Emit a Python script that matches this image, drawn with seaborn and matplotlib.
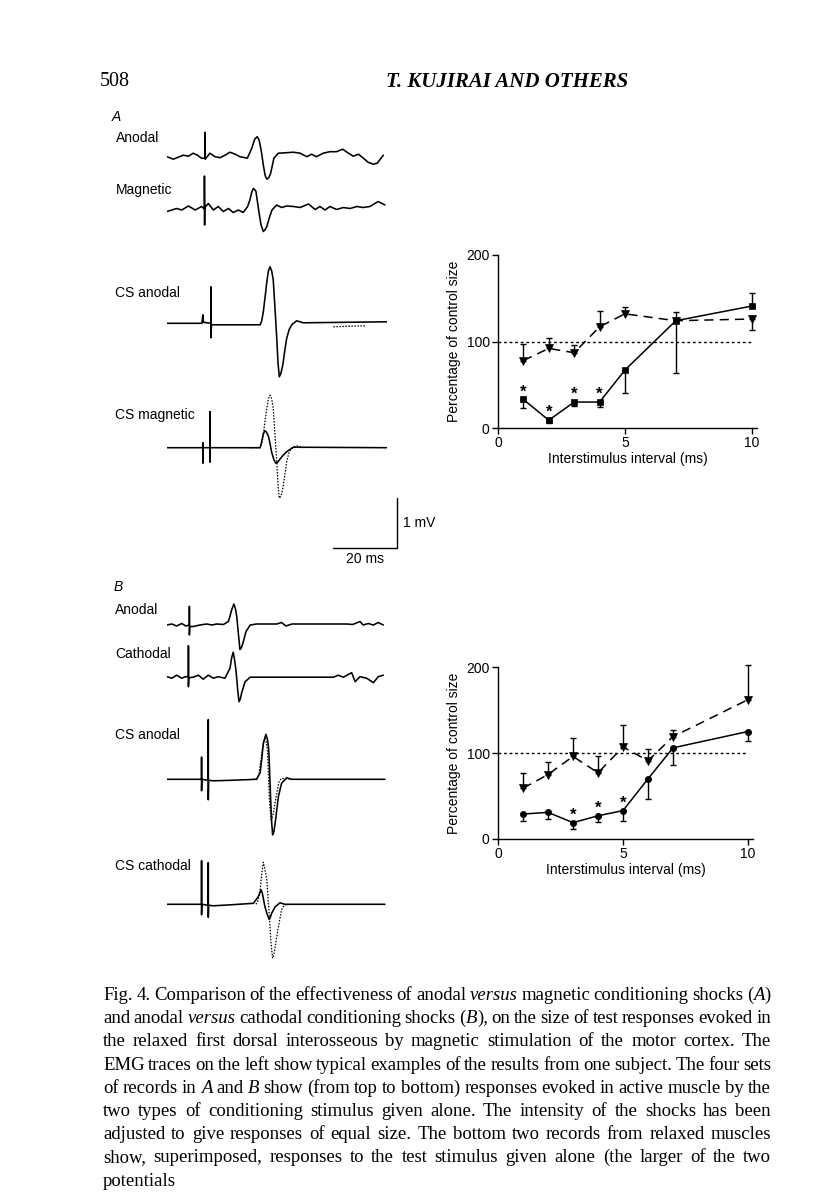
import re
import matplotlib
matplotlib.use("Agg")
import matplotlib.pyplot as plt
import seaborn as sns

sns.set_theme(style="ticks")
plt.rcParams['font.family'] = ['Liberation Sans', 'DejaVu Sans']
plt.rcParams.update({'text.color': 'black', 'axes.labelcolor': 'black',
                     'axes.edgecolor': 'black', 'xtick.color': 'black',
                     'ytick.color': 'black', 'axes.linewidth': 1.0})

# ---------------- data: graph A (relaxed, anodal vs magnetic) ----------------
isi_A = [1, 2, 3, 4, 5, 7, 10]
anodal_A_pct = [33, 9, 30, 30, 67, 124, 141]
anodal_A_err_down = [10, 3, 5, 6, 27, 60, 0]
anodal_A_err_up = [0, 0, 0, 0, 0, 0, 15]
magnetic_A_pct = [78, 92, 87, 117, 132, 124, 126]
magnetic_A_err_down = [0, 0, 0, 0, 0, 0, 13]
magnetic_A_err_up = [19, 12, 9, 18, 8, 10, 0]
signif_A = [1, 2, 3, 4]

# ---------------- data: graph B (anodal vs cathodal) ----------------
isi_B = [1, 2, 3, 4, 5, 6, 7, 10]
anodal_B_pct = [29, 31, 19, 27, 33, 70, 106, 125]
anodal_B_err_down = [8, 8, 7, 7, 12, 24, 20, 11]
anodal_B_err_up = [0, 0, 0, 0, 0, 0, 0, 0]
cathodal_B_pct = [59, 75, 96, 77, 107, 91, 119, 162]
cathodal_B_err_down = [0, 0, 0, 0, 0, 0, 0, 0]
cathodal_B_err_up = [18, 15, 22, 20, 25, 14, 8, 40]
signif_B = [3, 4, 5]

control_level = 100
x_ticks = [0, 5, 10]
y_ticks = [0, 100, 200]

# ---------------- EMG traces: (time ms, amplitude mV) ----------------
trace_anodal_A = [(0.0, 0.00), (2.0, -0.05), (3.5, -0.01), (5.1, 0.03), (6.7, 0.01), (8.2, 0.07),
                  (9.5, 0.03), (10.8, -0.03), (11.9, -0.03), (11.9, 0.49), (11.95, -0.05), (12.3, -0.02),
                  (13.4, 0.07), (15.0, 0.00), (16.6, -0.02), (18.1, 0.03), (19.7, 0.09), (21.3, 0.05),
                  (22.8, 0.00), (25.1, -0.03), (26.5, 0.17), (27.4, 0.35), (28.2, 0.40), (28.8, 0.33),
                  (29.5, 0.10), (30.1, -0.17), (30.7, -0.38), (31.2, -0.45), (31.8, -0.42), (32.4, -0.33),
                  (33.4, -0.03), (34.8, 0.07), (37.4, 0.08), (39.5, 0.09), (41.6, 0.07), (43.7, 0.00),
                  (45.2, 0.05), (46.7, 0.00), (48.8, 0.07), (50.9, 0.10), (53.0, 0.10), (54.9, 0.15),
                  (56.7, 0.07), (58.2, 0.01), (59.8, 0.05), (61.4, -0.03), (62.8, -0.11), (64.5, -0.15),
                  (65.7, -0.13), (67.6, 0.03)]
trace_magnetic_A = [(0.0, -0.03), (3.0, 0.03), (4.6, 0.00), (6.7, 0.08), (8.8, 0.00), (10.8, 0.07),
                    (11.7, 0.02), (11.7, 0.68), (11.75, -0.30), (11.8, 0.05), (12.9, 0.13), (14.5, 0.00),
                    (16.0, 0.07), (17.6, -0.03), (19.2, 0.03), (20.7, -0.05), (22.3, 0.00), (23.8, -0.05),
                    (25.2, 0.07), (25.9, 0.20), (26.5, 0.36), (27.0, 0.43), (27.5, 0.40), (27.8, 0.37),
                    (28.3, 0.15), (28.8, -0.07), (29.4, -0.30), (30.1, -0.43), (30.6, -0.40), (31.2, -0.33),
                    (32.0, -0.15), (32.8, 0.00), (34.3, 0.10), (35.8, 0.05), (37.4, 0.08), (39.5, 0.07),
                    (41.6, 0.05), (44.2, 0.12), (46.3, 0.01), (47.8, 0.07), (49.4, 0.00), (50.9, 0.07),
                    (53.0, 0.01), (55.1, 0.05), (57.2, 0.03), (59.3, 0.07), (61.3, 0.05), (63.4, 0.07),
                    (66.0, 0.17), (68.1, 0.10)]
trace_cs_anodal_A = [(0.0, 0.00), (10.9, 0.00), (11.2, 0.17), (11.4, 0.02), (13.7, 0.00), (13.7, 0.73),
                     (13.75, -0.29), (13.9, -0.03), (29.1, -0.03), (29.6, 0.05), (30.1, 0.23), (30.7, 0.55),
                     (31.2, 0.83), (31.7, 1.05), (32.2, 1.13), (32.7, 1.05), (33.2, 0.87), (33.7, 0.35),
                     (34.3, -0.30), (34.7, -0.80), (35.1, -1.07), (35.6, -1.00), (36.2, -0.83), (36.8, -0.55),
                     (37.4, -0.30), (38.2, -0.12), (39.0, -0.03), (40.5, 0.05), (42.6, 0.01), (68.7, 0.03)]
trace_cs_anodal_A_test = [(52.0, -0.07), (56.0, -0.06), (61.9, -0.05)]
trace_cs_magnetic_A = [(0.0, 0.00), (11.2, 0.00), (11.2, 0.10), (11.2, -0.31), (11.3, 0.00), (13.4, 0.00),
                       (13.4, 0.72), (13.4, -0.29), (13.5, 0.00), (29.1, 0.00), (29.6, 0.12), (30.1, 0.28),
                       (30.6, 0.34), (31.1, 0.31), (31.7, 0.23), (32.2, 0.08), (32.7, -0.09), (33.4, -0.24),
                       (34.0, -0.31), (34.6, -0.29), (35.3, -0.23), (36.3, -0.15), (37.4, -0.08), (39.5, 0.01),
                       (68.7, 0.00)]
trace_cs_magnetic_A_test = [(26.0, 0.00), (29.1, 0.00), (29.6, 0.08), (30.1, 0.25), (30.6, 0.52), (31.2, 0.79),
                            (31.7, 0.98), (32.2, 1.05), (32.7, 0.98), (33.2, 0.79), (33.7, 0.30), (34.3, -0.28),
                            (34.7, -0.75), (35.1, -1.01), (35.6, -0.97), (36.2, -0.81), (36.8, -0.55),
                            (37.4, -0.28), (38.2, -0.08), (39.0, -0.01), (40.5, 0.04), (42.6, 0.00)]
trace_anodal_B = [(0.0, 0.00), (1.5, 0.02), (3.0, -0.02), (4.6, 0.03), (5.9, -0.02), (7.0, 0.00),
                  (7.0, 0.37), (7.0, -0.20), (7.1, -0.03), (8.2, -0.03), (10.3, 0.00), (12.4, 0.02),
                  (14.0, 0.00), (15.5, 0.02), (17.6, 0.01), (19.2, 0.07), (19.7, 0.18), (20.2, 0.30),
                  (20.9, 0.42), (21.4, 0.32), (21.8, 0.17), (22.3, -0.17), (22.8, -0.49), (23.2, -0.46),
                  (23.7, -0.37), (24.7, -0.13), (26.0, 0.00), (28.0, 0.02), (34.3, 0.02), (35.8, 0.05),
                  (37.2, -0.02), (39.0, 0.02), (56.2, 0.02), (58.0, 0.01), (60.3, 0.07), (61.3, 0.00),
                  (62.9, 0.03), (64.5, 0.00), (66.0, 0.05), (67.6, 0.00)]
trace_cathodal_B = [(0.0, 0.00), (1.5, -0.03), (3.0, 0.03), (4.6, -0.03), (5.8, 0.00), (6.7, 0.00),
                    (6.7, 0.62), (6.7, -0.20), (6.8, -0.02), (8.2, -0.01), (9.8, 0.03), (11.3, -0.05),
                    (12.9, 0.03), (14.5, -0.03), (16.0, 0.00), (18.1, -0.03), (19.7, 0.17), (20.2, 0.38),
                    (20.7, 0.49), (21.2, 0.30), (21.6, 0.10), (22.1, -0.27), (22.5, -0.50), (22.9, -0.45),
                    (23.3, -0.33), (24.4, -0.10), (26.0, -0.01), (52.0, -0.01), (53.5, 0.03), (55.1, -0.01),
                    (57.7, 0.08), (58.8, -0.10), (60.3, 0.00), (62.4, -0.03), (64.5, -0.12), (66.0, 0.00),
                    (67.6, 0.03)]
trace_cs_anodal_B = [(0.0, 0.00), (10.8, 0.00), (10.8, 0.44), (10.8, -0.23), (10.9, 0.00), (12.9, -0.02),
                     (12.9, 1.19), (12.9, -0.41), (13.0, -0.02), (14.5, -0.03), (20.0, -0.02), (28.0, 0.00),
                     (29.1, 0.13), (29.6, 0.40), (30.1, 0.72), (30.9, 0.90), (31.4, 0.80), (31.8, 0.59),
                     (32.1, 0.10), (32.4, -0.41), (32.7, -0.85), (33.0, -1.11), (33.4, -1.05), (33.8, -0.88),
                     (34.8, -0.35), (35.8, -0.08), (37.4, 0.03), (39.0, 0.00), (68.1, 0.00)]
trace_cs_anodal_B_test = [(27.0, 0.00), (28.3, 0.02), (28.8, 0.13), (29.4, 0.40), (29.9, 0.65), (30.6, 0.82),
                          (31.0, 0.75), (31.4, 0.59), (31.7, 0.10), (32.0, -0.41), (32.5, -0.81), (32.8, -0.78),
                          (33.2, -0.68), (34.3, -0.28), (35.0, -0.05), (35.8, 0.02), (37.4, 0.01), (39.0, 0.00)]
trace_cs_cathodal_B = [(0.0, 0.00), (10.8, 0.00), (10.8, 0.87), (10.8, -0.21), (10.9, 0.00), (12.9, -0.02),
                       (12.9, 0.83), (12.9, -0.26), (13.0, -0.02), (14.5, -0.03), (20.0, -0.01), (27.0, 0.02),
                       (28.5, 0.15), (29.4, 0.29), (29.8, 0.22), (30.1, 0.12), (30.6, -0.05), (31.2, -0.18),
                       (31.9, -0.30), (32.3, -0.26), (32.7, -0.18), (33.8, -0.05), (35.3, 0.03), (36.9, 0.00),
                       (68.1, 0.00)]
trace_cs_cathodal_B_test = [(27.8, 0.00), (28.5, 0.08), (29.1, 0.29), (29.6, 0.60), (30.1, 0.84), (30.6, 0.70),
                            (31.2, 0.49), (31.6, 0.10), (32.0, -0.25), (32.5, -0.78), (33.0, -1.08), (33.4, -1.00),
                            (33.8, -0.85), (34.8, -0.45), (35.8, -0.11), (36.6, -0.02), (37.4, 0.00)]

scale_ms = 20
scale_mv = 1

header_page = "508"
header_title = "T. KUJIRAI AND OTHERS"
caption_lines = [
    "Fig. 4. Comparison of the effectiveness of anodal *versus* magnetic conditioning shocks (*A*)",
    "and anodal *versus* cathodal conditioning shocks (*B*), on the size of test responses evoked in",
    "the relaxed first dorsal interosseous by magnetic stimulation of the motor cortex. The",
    "EMG traces on the left show typical examples of the results from one subject. The four sets",
    "of records in *A* and *B* show (from top to bottom) responses evoked in active muscle by the",
    "two types of conditioning stimulus given alone. The intensity of the shocks has been",
    "adjusted to give responses of equal size. The bottom two records from relaxed muscles",
    "show, superimposed, responses to the test stimulus given alone (the larger of the two",
    "potentials",
]

# ---------------- figure ----------------
W, H = 816, 1200
fig = plt.figure(figsize=(W / 100, H / 100), dpi=100)
fig.patch.set_facecolor('white')


def px_axes(left, top, width, height):
    ax = fig.add_axes([left / W, 1 - (top + height) / H, width / W, height / H])
    ax.set_facecolor('none')
    return ax


def ptext(x, y, s, **kw):
    return fig.text(x / W, 1 - y / H, s, **kw)


LW = 1.15


def draw_trace(baseline_y, solid, dotted=None):
    ax = px_axes(167, baseline_y - 80, 220, 160)
    ax.set_xlim(0, 68.75)
    ax.set_ylim(-1.6, 1.6)
    ax.axis('off')
    sns.lineplot(x=[p[0] for p in solid], y=[p[1] for p in solid], ax=ax, color='black',
                 lw=LW, estimator=None, sort=False, legend=False)
    if dotted is not None:
        sns.lineplot(x=[p[0] for p in dotted], y=[p[1] for p in dotted], ax=ax, color='black',
                     lw=0.9, linestyle=(0, (1.2, 1.2)), estimator=None, sort=False, legend=False)
    return ax


draw_trace(156.7, trace_anodal_A)
draw_trace(210.0, trace_magnetic_A)
draw_trace(323.3, trace_cs_anodal_A, trace_cs_anodal_A_test)
draw_trace(447.7, trace_cs_magnetic_A, trace_cs_magnetic_A_test)
draw_trace(625.0, trace_anodal_B)
draw_trace(676.7, trace_cathodal_B)
draw_trace(779.3, trace_cs_anodal_B, trace_cs_anodal_B_test)
draw_trace(904.3, trace_cs_cathodal_B, trace_cs_cathodal_B_test)

# scale bar
sb = px_axes(333, 498, 64, 50)
sb.set_xlim(0, scale_ms)
sb.set_ylim(0, scale_mv)
sb.axis('off')
sns.lineplot(x=[0, scale_ms, scale_ms], y=[0, 0, scale_mv], ax=sb, color='black', lw=1.0,
             estimator=None, sort=False, legend=False, clip_on=False)
ptext(403, 523, f"{scale_mv} mV", fontsize=10, va='center', ha='left')
ptext(365, 559, f"{scale_ms} ms", fontsize=10, va='center', ha='center')

# trace labels
lab_kw = dict(fontsize=10, va='center', ha='left')
ptext(112, 117, "A", fontsize=10, style='italic', va='center', ha='left')
ptext(116, 138, "Anodal", **lab_kw)
ptext(116, 190, "Magnetic", **lab_kw)
ptext(115, 293, "CS anodal", **lab_kw)
ptext(115, 415, "CS magnetic", **lab_kw)
ptext(114, 587, "B", fontsize=10, style='italic', va='center', ha='left')
ptext(115, 610, "Anodal", **lab_kw)
ptext(115, 654, "Cathodal", **lab_kw)
ptext(115, 735, "CS anodal", **lab_kw)
ptext(115, 866, "CS cathodal", **lab_kw)


# ---------------- graphs ----------------
def draw_series(ax, xs, ys, lo, hi, marker, ms, ls):
    ax.errorbar(xs, ys, yerr=[lo, hi], fmt='none', ecolor='black', elinewidth=1.0,
                capsize=2.2, capthick=1.0, clip_on=False, zorder=3)
    sns.lineplot(x=xs, y=ys, ax=ax, color='black', lw=1.1, linestyle=ls, marker=marker,
                 markersize=ms, markeredgecolor='black', markeredgewidth=0.5,
                 estimator=None, sort=False, legend=False, clip_on=False, zorder=4)


def style_graph(ax):
    ax.set_xlim(0, 10.2)
    ax.set_ylim(0, 200)
    ax.set_xticks(x_ticks)
    ax.set_yticks(y_ticks)
    sns.despine(ax=ax)
    ax.tick_params(direction='out', length=4, width=1, labelsize=10, pad=2)
    ax.set_xlabel('Interstimulus interval (ms)', fontsize=10, labelpad=1)
    ax.set_ylabel('Percentage of control size', fontsize=10, labelpad=4)
    ax.hlines(control_level, 0, max(x_ticks), colors='black', lw=1.0,
              linestyles=[(0, (2, 2))], zorder=1)


def stars(ax, xs_all, ys_all, which):
    for x in which:
        y = ys_all[xs_all.index(x)]
        ax.annotate('*', (x, y), xytext=(0, 0), textcoords='offset points',
                    ha='center', va='bottom', fontsize=12, fontweight='bold',
                    annotation_clip=False)


axA = px_axes(498, 255, 259, 173)
style_graph(axA)
draw_series(axA, isi_A, anodal_A_pct, anodal_A_err_down, anodal_A_err_up, 's', 5, '-')
draw_series(axA, isi_A, magnetic_A_pct, magnetic_A_err_down, magnetic_A_err_up, 'v', 6, (0, (6, 4)))
stars(axA, isi_A, anodal_A_pct, signif_A)

axB = px_axes(498, 667, 255, 172)
style_graph(axB)
draw_series(axB, isi_B, anodal_B_pct, anodal_B_err_down, anodal_B_err_up, 'o', 4.5, '-')
draw_series(axB, isi_B, cathodal_B_pct, cathodal_B_err_down, cathodal_B_err_up, 'v', 6, (0, (6, 4)))
stars(axB, isi_B, anodal_B_pct, signif_B)

# ---------------- header and caption ----------------
serif = ['Liberation Serif', 'DejaVu Serif']
ptext(100, 82, header_page, fontsize=14.5, family=serif, va='center', ha='left')
ptext(507, 82, header_title, fontsize=15, family=serif, style='italic', weight='bold',
      va='center', ha='center')

fig.canvas.draw()
renderer = fig.canvas.get_renderer()
CAP_FS = 13.5
cap_left, cap_right = 103, 771


def measure(s, italic):
    t = fig.text(0, 0, s, fontsize=CAP_FS, family=serif, style='italic' if italic else 'normal')
    w = t.get_window_extent(renderer).width
    t.remove()
    return w


space_w = measure('a a', False) - measure('aa', False)
for i, line in enumerate(caption_lines):
    words = line.split(' ')
    pieces = []
    for w in words:
        parts = [p for p in re.split(r'(\*[^*]+\*)', w) if p]
        pieces.append([(p.strip('*'), p.startswith('*')) for p in parts])
    widths = [[measure(s, it) for s, it in pcs] for pcs in pieces]
    total = sum(sum(ws) for ws in widths)
    last = i == len(caption_lines) - 1
    gap = space_w if last else max((cap_right - cap_left - total) / (len(words) - 1), 0.6 * space_w)
    x = cap_left
    y = 1000 + 23.2 * i
    for pcs, ws in zip(pieces, widths):
        for (s, it), wv in zip(pcs, ws):
            ptext(x, y, s, fontsize=CAP_FS, family=serif, style='italic' if it else 'normal',
                  va='baseline', ha='left')
            x += wv
        x += gap

fig.savefig('out.png', dpi=100, facecolor='white')
